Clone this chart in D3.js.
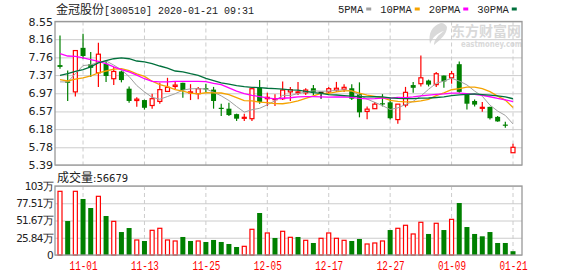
<!DOCTYPE html>
<html><head><meta charset="utf-8">
<script src="https://cdn.jsdelivr.net/npm/d3@7"></script>
<style>body{margin:0;background:#fff;overflow:hidden}</style>
</head><body>
<svg id="c" width="578" height="276"></svg>
<script>
// ---------- data ----------
const dates = ["10-29","10-30","10-31","11-01","11-04","11-05","11-06","11-07","11-08","11-11",
  "11-12","11-13","11-14","11-15","11-18","11-19","11-20","11-21","11-22","11-25",
  "11-26","11-27","11-28","11-29","12-02","12-03","12-04","12-05","12-06","12-09",
  "12-10","12-11","12-12","12-13","12-16","12-17","12-18","12-19","12-20","12-23",
  "12-24","12-25","12-26","12-27","12-30","12-31","01-02","01-03","01-06","01-07",
  "01-08","01-09","01-10","01-13","01-14","01-15","01-16","01-17","01-20","01-21"];
const open  = [7.59,7.23,7.00,7.97,7.61,7.42,7.62,7.29,7.45,7.07,
  6.81,6.82,6.70,6.79,7.01,7.12,7.20,6.98,6.96,7.08,
  7.05,6.65,6.63,6.51,6.42,6.41,7.09,6.85,6.83,6.85,
  7.00,6.98,6.98,7.08,6.99,7.00,7.04,7.06,7.08,6.95,
  6.57,6.63,6.75,6.77,6.39,6.71,7.15,7.18,7.25,7.16,
  7.36,7.31,7.61,6.95,6.80,6.65,6.67,6.45,6.28,5.66];
const high  = [8.24,7.47,7.91,8.28,7.88,8.08,7.69,7.55,7.47,7.12,
  6.88,6.83,6.96,7.20,7.31,7.23,7.20,7.17,7.11,7.18,
  7.11,6.74,6.76,6.52,6.52,7.07,7.26,6.98,6.95,7.23,
  7.11,7.22,7.08,7.15,6.99,7.11,7.22,7.17,7.17,7.21,
  6.68,6.78,6.95,6.88,6.73,7.11,7.22,7.80,7.27,7.44,
  7.36,7.46,7.67,6.95,6.83,6.78,6.67,6.47,6.34,5.86];
const low   = [7.51,6.80,6.90,7.73,7.33,7.11,7.22,7.15,7.21,6.76,
  6.67,6.61,6.63,6.74,7.01,7.06,6.87,6.82,6.84,7.00,
  6.63,6.47,6.47,6.36,6.36,6.36,6.74,6.69,6.69,6.82,
  6.80,6.93,6.93,6.93,6.85,6.96,7.00,7.00,6.82,6.44,
  6.40,6.63,6.68,6.39,6.30,6.66,6.98,7.12,7.12,7.11,
  7.09,7.18,6.98,6.61,6.68,6.56,6.39,6.34,6.21,5.66];
const close = [7.55,7.20,7.91,7.79,7.53,7.83,7.35,7.45,7.26,6.80,
  6.84,6.65,6.85,7.05,7.10,7.15,7.04,7.00,7.07,7.06,
  6.80,6.63,6.49,6.41,6.44,7.07,6.78,6.88,6.85,7.04,
  7.05,7.00,7.04,6.99,6.99,7.07,7.08,7.10,6.85,6.55,
  6.62,6.73,6.74,6.42,6.73,6.99,7.09,7.31,7.16,7.40,
  7.23,7.40,7.00,6.74,6.72,6.66,6.42,6.35,6.26,5.78];
// volume in 万手
const volume = [95.4,50.9,95.4,83.9,70.4,87.9,58.4,50.4,34.4,40.4,
  22.5,21,37,40,22.5,21,27,21,21,19.5,
  22.5,19.5,16.5,12,13,38.5,62.9,33,25.5,35.5,
  26.5,27,22,18,25,33,25,22,21,24,
  16.5,18,21,37.4,40,44.5,31.5,49,31.5,47.5,
  37.4,53.4,77.9,41.9,31.5,28,34.4,18,18,5.6679];
const prevClose = 7.50; // close before first shown day
// moving-average values shown before a full window is available
const ma5Lead  = [7.22,7.22,7.40,7.58];
const ma10Lead = [7.27,7.24,7.28,7.31,7.35,7.42,7.46,7.50,7.51];
const ma20Lead = [7.84,7.79,7.78,7.75,7.71,7.67,7.62,7.55,7.49,7.44,7.37,7.29,7.23,7.22,7.22,7.23,7.23,7.23,7.23];
const ma30Lead = [7.365,7.40,7.45,7.49,7.55,7.64,7.69,7.73,7.75,7.73,7.68,7.66,7.62,7.57,7.525,7.46,7.44,7.40,7.365,7.30,
  7.25,7.20,7.17,7.14,7.115,7.10,7.095,7.08,7.07];
const maNames = ["5PMA","10PMA","20PMA","30PMA"];
const maPeriods = [5,10,20,30];
const priceTicks = [5.39,5.78,6.18,6.57,6.97,7.37,7.76,8.16,8.55];
const volTicks = [0,25.84,51.67,77.51,103.35];
const volTickLabels = ["0","25.84万","51.67万","77.51万","103万"];
const xTickLabels = ["11-01","11-13","11-25","12-05","12-17","12-27","01-09","01-21"];
const stockName = "金冠股份", stockCode = "300510", stamp = "2020-01-21 09:31";

// ---------- layout ----------
const svg = d3.select("#c");
const L = 55, R = 522;
const pTop = 21.5, pBot = 165, vTop = 186, vBot = 255;
const RED = "#ff0000", GREEN = "#008000";
const maColors = ["#a0a0a0","#f5a300","#ff00ff","#00703c"];

const x = d3.scalePoint().domain(dates).range([60, 513]);
const y = d3.scaleLinear().domain([5.39, 8.55]).range([pBot, pTop]);
const yv = d3.scaleLinear().domain([0, 103.35]).range([vBot, vTop]);

const leads = [ma5Lead, ma10Lead, ma20Lead, ma30Lead];
const mas = maPeriods.map((n, k) => close.map((c, i) =>
  i >= n - 1 ? d3.mean(close.slice(i - n + 1, i + 1)) : leads[k][i]));

// title
const t = svg.append("text").attr("x", 56).attr("y", 14).attr("fill", "#222");
t.append("tspan").attr("font-family", "'Noto Sans CJK SC'").attr("font-size", 12).text(stockName);
t.append("tspan").attr("font-family", "'Liberation Mono'").attr("font-size", 10).text(`[${stockCode}] ${stamp}`);

// legend
let lx = 338;
maNames.forEach((n, k) => {
  const tx = svg.append("text").attr("x", lx).attr("y", 12.5)
    .attr("font-family", "'Liberation Mono'").attr("font-size", 10.5).attr("fill", "#222").text(n);
  const w = tx.node().getComputedTextLength();
  svg.append("rect").attr("x", lx + w + 3).attr("y", 7.5).attr("width", 5).attr("height", 3).attr("fill", maColors[k]);
  lx += w + 17;
});

// watermark
const wm = svg.append("g").attr("fill", "#d9d9d9");
wm.append("path").attr("d", "M441,23 C432,26 428,33 430,44 C433,37 437,33 444,31 C438,35 434,40 434,45 C441,39 447,34 447,27 C446,25 444,23 441,23 Z");
wm.append("text").attr("x", 451).attr("y", 35.5).attr("font-family", "'Noto Sans CJK SC'").attr("font-weight", "bold")
  .attr("font-size", 14).attr("textLength", 70).attr("lengthAdjust", "spacingAndGlyphs").text("东方财富网");
wm.append("text").attr("x", 461).attr("y", 46.5).attr("font-family", "'DejaVu Sans'").attr("font-weight", "bold")
  .attr("font-size", 9).attr("textLength", 61).attr("lengthAdjust", "spacingAndGlyphs").text("eastmoney.com");

// price grid + axis
const pa = svg.append("g").attr("transform", `translate(${L},0)`)
  .call(d3.axisLeft(y).tickValues(priceTicks).tickFormat(d3.format(".2f")).tickSize(-(R - L)).tickPadding(2));
pa.select(".domain").remove();
pa.selectAll("line").attr("stroke", "#cccccc");
pa.selectAll("text").attr("font-family", "'DejaVu Sans'").attr("font-size", 11).attr("fill", "#222");

// volume grid + axis
const va = svg.append("g").attr("transform", `translate(${L},0)`)
  .call(d3.axisLeft(yv).tickValues(volTicks).tickFormat((d, i) => volTickLabels[i]).tickSize(-(R - L)).tickPadding(2));
va.select(".domain").remove();
va.selectAll("line").attr("stroke", "#cccccc");
va.selectAll("text").attr("font-family", "'DejaVu Sans'").attr("font-size", 10.5).attr("letter-spacing", -0.7).attr("fill", "#222");

// vertical dashed grid
[[pTop, pBot], [vTop, vBot]].forEach(([a, b]) => {
  svg.append("g").selectAll("line").data(xTickLabels).join("line")
    .attr("x1", d => x(d)).attr("x2", d => x(d)).attr("y1", a).attr("y2", b)
    .attr("stroke", "#cccccc").attr("stroke-dasharray", "4,3");
});

// x axis labels
const xa = svg.append("g").attr("transform", `translate(0,${vBot})`)
  .call(d3.axisBottom(x).tickValues(xTickLabels).tickSize(0).tickPadding(6));
xa.select(".domain").remove();
xa.selectAll("text").attr("font-family", "'Liberation Mono'").attr("font-size", 12.5).attr("fill", RED)
  .attr("textLength", 28).attr("lengthAdjust", "spacingAndGlyphs");

// candles
const idx = d3.range(dates.length);
const cg = svg.append("g");
idx.forEach(i => {
  const cx = x(dates[i]);
  const up = close[i] > open[i], flat = close[i] === open[i];
  const col = flat ? "#000" : (up ? RED : GREEN);
  cg.append("line").attr("x1", cx).attr("x2", cx).attr("y1", y(high[i])).attr("y2", y(low[i]))
    .attr("stroke", col).attr("stroke-width", 1.2);
  const top = y(Math.max(open[i], close[i])), bot = y(Math.min(open[i], close[i]));
  if (flat) {
    cg.append("line").attr("x1", cx - 2.5).attr("x2", cx + 2.5).attr("y1", top).attr("y2", top).attr("stroke", col).attr("stroke-width", 1.2);
  } else if (up) {
    cg.append("rect").attr("x", cx - 2).attr("y", top).attr("width", 4).attr("height", Math.max(bot - top, 1))
      .attr("fill", "#fff").attr("stroke", col).attr("stroke-width", 1.2);
  } else {
    cg.append("rect").attr("x", cx - 2.5).attr("y", top).attr("width", 5).attr("height", Math.max(bot - top, 1.2)).attr("fill", col);
  }
});

// moving averages
mas.forEach((m, k) => {
  svg.append("path").datum(m)
    .attr("d", d3.line().x((d, i) => x(dates[i])).y(d => y(d)))
    .attr("fill", "none").attr("stroke", maColors[k]).attr("stroke-width", k === 0 ? 1 : 1.3);
});

// volume bars
const vg = svg.append("g");
idx.forEach(i => {
  const cx = x(dates[i]);
  const pc = i === 0 ? prevClose : close[i - 1];
  const up = close[i] >= pc;
  const top = yv(volume[i]);
  if (up) {
    vg.append("rect").attr("x", cx - 2).attr("y", top).attr("width", 4).attr("height", vBot - top)
      .attr("fill", "#fff").attr("stroke", RED).attr("stroke-width", 1.2);
  } else {
    vg.append("rect").attr("x", cx - 2.5).attr("y", top).attr("width", 5).attr("height", vBot - top).attr("fill", GREEN);
  }
});

// frames
[[pTop, pBot], [vTop, vBot]].forEach(([a, b]) => {
  svg.append("rect").attr("x", L).attr("y", a).attr("width", R - L).attr("height", b - a)
    .attr("fill", "none").attr("stroke", "#999").attr("stroke-width", 1.3);
});

// volume caption
const vc = svg.append("text").attr("x", 57).attr("y", 182).attr("fill", "#222");
vc.append("tspan").attr("font-family", "'Noto Sans CJK SC'").attr("font-size", 12).text("成交量");
vc.append("tspan").attr("font-family", "'DejaVu Sans'").attr("font-size", 10).text(":" + Math.round(volume[volume.length - 1] * 10000));
</script>
</body></html>
